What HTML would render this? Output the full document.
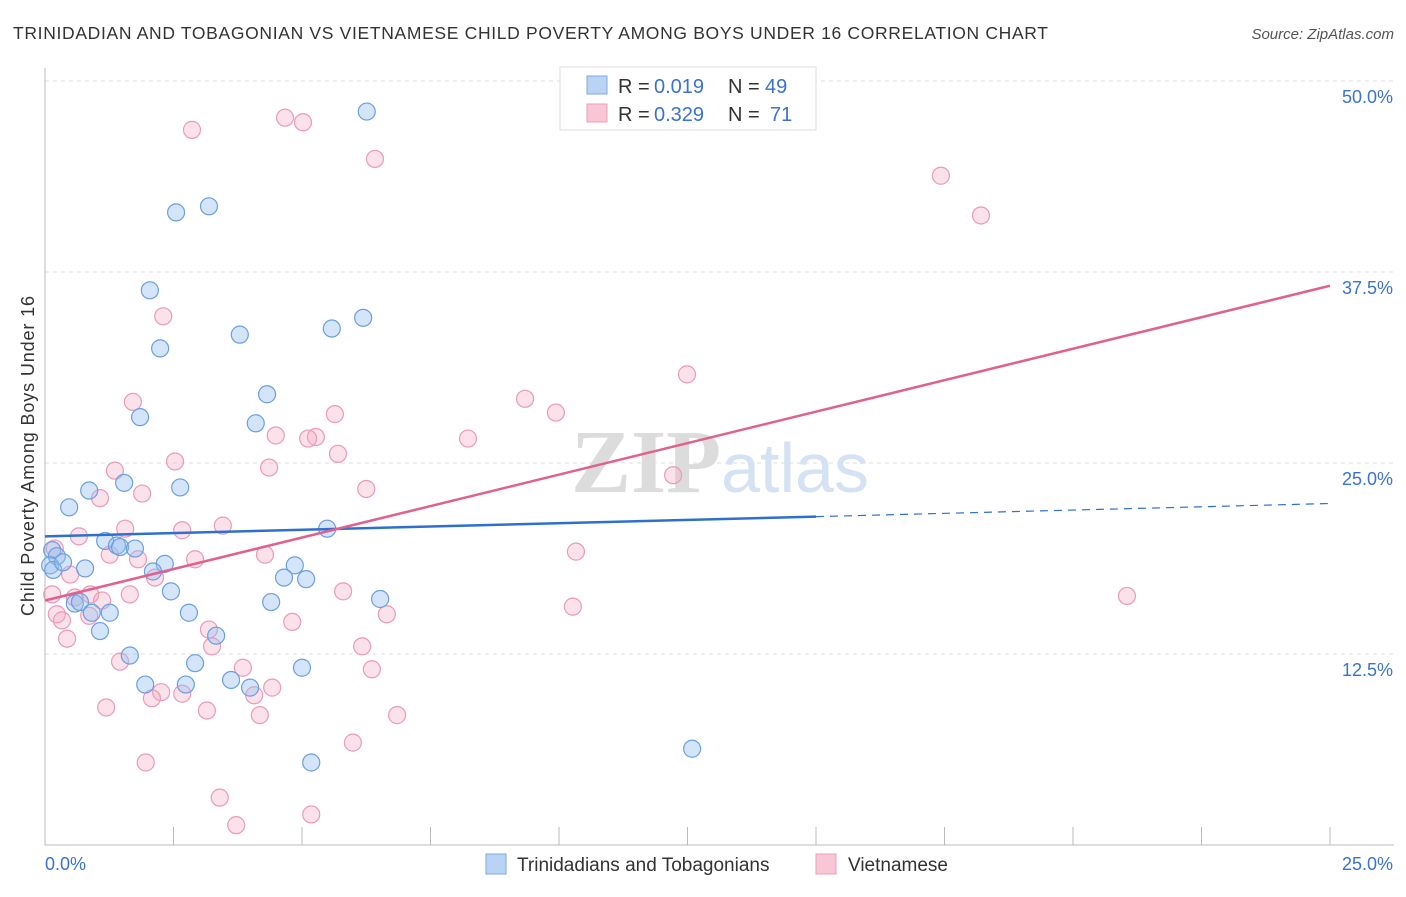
<!DOCTYPE html>
<html><head><meta charset="utf-8"><style>
body{margin:0;background:#fff;font-family:"Liberation Sans",sans-serif;}
svg text{font-family:"Liberation Sans",sans-serif;}
</style></head><body>
<svg id="chart" width="1406" height="892" xmlns="http://www.w3.org/2000/svg">
<text x="13" y="39" font-size="17.5" fill="#333" textLength="1035" lengthAdjust="spacing">TRINIDADIAN AND TOBAGONIAN VS VIETNAMESE CHILD POVERTY AMONG BOYS UNDER 16 CORRELATION CHART</text>
<text x="1394" y="39" font-size="15" fill="#555" font-style="italic" text-anchor="end">Source: ZipAtlas.com</text>
<text x="0" y="0" transform="translate(34,456) rotate(-90)" font-size="18" fill="#333" text-anchor="middle" textLength="320" lengthAdjust="spacing">Child Poverty Among Boys Under 16</text>
<g id="grid"></g>
<text x="720" y="492" font-size="90" fill="#e6e6e6" text-anchor="middle" font-family="Liberation Serif"><tspan font-family="Liberation Serif" font-weight="bold" fill="#dcdcdc">ZIP</tspan><tspan font-family="Liberation Sans" fill="#d4e2f4" font-size="70">atlas</tspan></text>
<g id="marks"></g>
<g id="lines"></g>
<g>
<rect x="560" y="67" width="256" height="63" fill="#fff" stroke="#ddd"/>
<rect x="587" y="76" width="20" height="18" fill="#b9d3f5" stroke="#7fa9e0"/>
<rect x="587" y="104" width="20" height="18" fill="#f9c6d6" stroke="#eaa0bb"/>
<text x="618" y="93" font-size="20" fill="#333">R =</text><text x="654" y="93" font-size="20" fill="#3a72d4">0.019</text>
<text x="728" y="93" font-size="20" fill="#333">N =</text><text x="765" y="93" font-size="20" fill="#3a72d4">49</text>
<text x="618" y="121" font-size="20" fill="#333">R =</text><text x="654" y="121" font-size="20" fill="#3a72d4">0.329</text>
<text x="728" y="121" font-size="20" fill="#333">N =</text><text x="770" y="121" font-size="20" fill="#3a72d4">71</text>
</g>
<g>
<rect x="486" y="854" width="20" height="20" fill="#b9d3f5" stroke="#7fa9e0"/>
<text x="517" y="871" font-size="19" fill="#333">Trinidadians and Tobagonians</text>
<rect x="816" y="854" width="20" height="20" fill="#f9c6d6" stroke="#eaa0bb"/>
<text x="848" y="871" font-size="19" fill="#333">Vietnamese</text>
</g>
</svg>
<script>
const yTicks=[12.5,25,37.5,50];
const yTickLabels=["12.5%","25.0%","37.5%","50.0%"];
const xTickCount=10;
const xMax=25;
const blueX=[6.26,3.19,2.55,2.04,2.24,3.79,5.58,6.19,4.32,1.85,4.10,0.86,1.54,2.63,0.47,5.49,0.14,0.23,0.10,0.16,0.35,0.78,1.17,1.40,1.46,1.75,2.33,2.10,4.86,4.65,5.08,2.45,0.58,0.68,0.91,1.26,2.80,4.40,6.52,1.07,3.33,1.65,2.92,5.00,1.95,2.74,3.62,3.99,5.18,12.59];
const blueY=[48.0,41.8,41.4,36.3,32.5,33.4,33.8,34.5,29.5,28.0,27.6,23.2,23.7,23.4,22.1,20.7,19.3,18.9,18.3,18.0,18.5,18.1,19.9,19.6,19.5,19.4,18.4,17.9,18.3,17.5,17.4,16.6,15.8,15.9,15.2,15.2,15.2,15.9,16.1,14.0,13.7,12.4,11.9,11.6,10.5,10.5,10.8,10.3,5.4,6.3];
const pinkX=[2.86,4.67,5.02,6.42,17.43,18.21,2.30,12.49,1.71,9.34,9.94,5.64,4.49,5.27,5.12,8.23,5.70,2.53,4.36,1.36,1.89,1.07,6.25,12.22,1.56,2.67,3.46,0.66,1.26,1.81,2.92,4.28,10.33,2.14,0.49,0.19,0.14,0.58,0.88,1.65,1.11,5.80,21.05,10.27,6.65,0.23,0.33,0.86,4.81,3.19,0.43,3.25,6.17,1.46,3.85,6.36,4.42,2.26,2.67,2.08,4.07,1.19,3.15,4.18,6.85,5.99,1.96,3.40,3.72,5.18];
const pinkY=[46.8,47.6,47.3,44.9,43.8,41.2,34.6,30.8,29.0,29.2,28.3,28.2,26.8,26.7,26.6,26.6,25.6,25.1,24.7,24.5,23.0,22.7,23.3,24.2,20.7,20.6,20.9,20.2,19.0,18.7,18.7,19.0,19.2,17.5,17.7,19.4,16.4,16.2,16.4,16.4,16.0,16.6,16.3,15.6,15.1,15.1,14.7,15.0,14.6,14.1,13.5,13.0,13.0,12.0,11.6,11.5,10.3,10.0,9.9,9.6,9.8,9.0,8.8,8.5,8.5,6.7,5.4,3.1,1.3,2.0];
const blueFit=[20.2,0.086];
const blueSolidEnd=15;
const pinkFit=[16.0,0.824];
const L=45,R=1330,B=845,T=81;
const sx=v=>L+(R-L)*v/xMax;
const sy=v=>B-(B-T)*v/50;
const NS="http://www.w3.org/2000/svg";
function mk(tag,attrs,parent){const e=document.createElementNS(NS,tag);for(const k in attrs)e.setAttribute(k,attrs[k]);parent.appendChild(e);return e;}
const grid=document.getElementById('grid');
yTicks.forEach((t,i)=>{
 const g=mk('line',{x1:L,x2:1394,y1:sy(t),y2:sy(t),stroke:'#ddd','stroke-dasharray':'4,4'},grid);
 
 
 const tx=mk('text',{x:1393,y:sy(t)+22,'font-size':18,fill:'#3a72d4','text-anchor':'end'},grid);
 tx.textContent=yTickLabels[i];
 
 
});
const ax=mk('line',{x1:L,x2:1394,y1:B,y2:B,stroke:'#bbb'},grid);


const ay=mk('line',{x1:L,x2:L,y1:68,y2:B,stroke:'#bbb'},grid);


for(let i=1;i<=xTickCount;i++){
 const v=xMax*i/xTickCount;
 const t=mk('line',{x1:sx(v),x2:sx(v),y1:B,y2:B-18,stroke:'#bbb'},grid);
 
 
}
const x0=mk('text',{x:45,y:870,'font-size':18,fill:'#3a72d4'},grid);x0.textContent='0.0%';


const x1=mk('text',{x:1393,y:870,'font-size':18,fill:'#3a72d4','text-anchor':'end'},grid);x1.textContent='25.0%';


const marks=document.getElementById('marks');
pinkX.forEach((x,i)=>{
 const c=mk('circle',{cx:sx(x),cy:sy(pinkY[i]),r:8.5,fill:'rgba(244,170,195,0.35)',stroke:'#eb9ab7','stroke-width':1.2},marks);
 
 
});
blueX.forEach((x,i)=>{
 const c=mk('circle',{cx:sx(x),cy:sy(blueY[i]),r:8.5,fill:'rgba(150,190,240,0.4)',stroke:'#6a9fe0','stroke-width':1.2},marks);
 
 
});
const lines=document.getElementById('lines');
const f=(fit,x)=>fit[0]+fit[1]*x;
const b1=mk('line',{x1:sx(0),y1:sy(f(blueFit,0)),x2:sx(blueSolidEnd),y2:sy(f(blueFit,blueSolidEnd)),stroke:'#2f6fd0','stroke-width':2.5},lines);


const b2=mk('line',{x1:sx(blueSolidEnd),y1:sy(f(blueFit,blueSolidEnd)),x2:sx(xMax),y2:sy(f(blueFit,xMax)),stroke:'#2f6fd0','stroke-width':1.2,'stroke-dasharray':'8,6'},lines);


const p1=mk('line',{x1:sx(0),y1:sy(f(pinkFit,0)),x2:sx(xMax),y2:sy(f(pinkFit,xMax)),stroke:'#e0608f','stroke-width':2.5},lines);


</script>
</body></html>
